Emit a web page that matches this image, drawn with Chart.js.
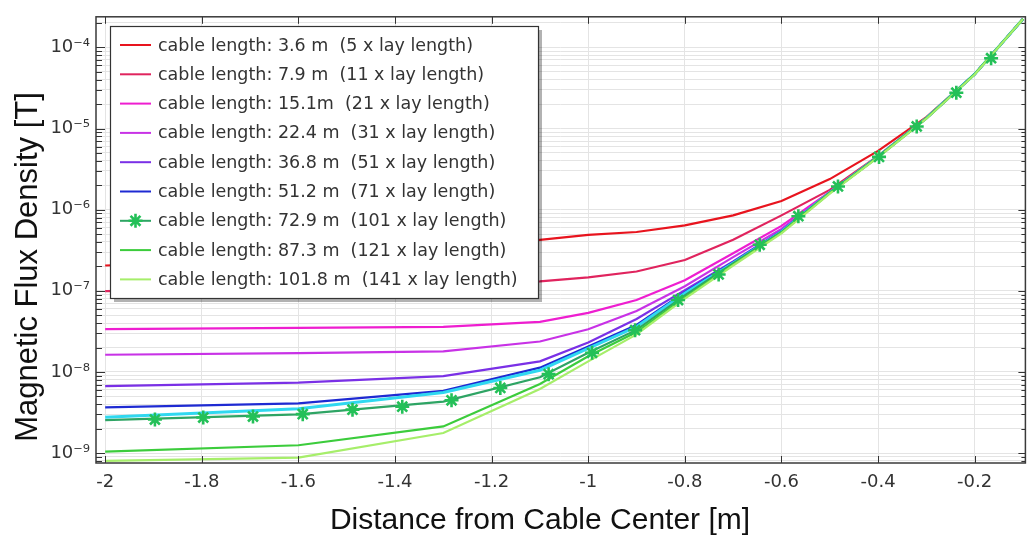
<!DOCTYPE html>
<html>
<head>
<meta charset="utf-8">
<script src="https://cdn.jsdelivr.net/npm/chart.js@4.4.1/dist/chart.umd.min.js"></script>
<style>
  html, body { margin: 0; padding: 0; background: #fff; }
  #wrap { width: 1035px; height: 542px; }
</style>
</head>
<body>
<div id="wrap"><canvas id="myChart" width="1035" height="542"></canvas></div>
<script>
// distance from cable center [m] where the curves bend
const xGrid = [-2, -1.6, -1.3, -1.1, -1.0, -0.9, -0.8, -0.7, -0.6, -0.5, -0.4, -0.3, -0.2, -0.1];

// magnetic flux density [T] per cable length
const len3_6   = [2.05e-7, 2.45e-7, 3.2e-7, 4.25e-7, 4.9e-7, 5.3e-7, 6.4e-7, 8.5e-7, 1.28e-6, 2.38e-6, 5.3e-6, 1.38e-5, 4.7e-5, 2.25e-4];
const len7_9   = [9.9e-8, 1.05e-7, 1.17e-7, 1.31e-7, 1.46e-7, 1.73e-7, 2.4e-7, 4.25e-7, 8.5e-7, 1.75e-6, 4.6e-6, 1.35e-5, 4.68e-5, 2.24e-4];
const len15_1  = [3.38e-8, 3.5e-8, 3.6e-8, 4.15e-8, 5.35e-8, 7.7e-8, 1.35e-7, 2.9e-7, 6.3e-7, 1.66e-6, 4.5e-6, 1.34e-5, 4.68e-5, 2.24e-4];
const len22_4  = [1.63e-8, 1.71e-8, 1.79e-8, 2.37e-8, 3.36e-8, 5.65e-8, 1.14e-7, 2.6e-7, 5.8e-7, 1.64e-6, 4.5e-6, 1.34e-5, 4.68e-5, 2.24e-4];
const len36_8  = [6.7e-9, 7.4e-9, 8.9e-9, 1.35e-8, 2.3e-8, 4.5e-8, 1.02e-7, 2.3e-7, 5.5e-7, 1.62e-6, 4.5e-6, 1.34e-5, 4.68e-5, 2.24e-4];
const len51_2  = [3.66e-9, 4.1e-9, 5.84e-9, 1.13e-8, 2.06e-8, 3.8e-8, 9.6e-8, 2.25e-7, 5.4e-7, 1.62e-6, 4.5e-6, 1.34e-5, 4.68e-5, 2.24e-4];
const lenCyan  = [2.77e-9, 3.52e-9, 5.57e-9, 1.05e-8, 1.95e-8, 3.6e-8, 9.3e-8, 2.2e-7, 5.35e-7, 1.62e-6, 4.5e-6, 1.34e-5, 4.68e-5, 2.24e-4];
const len72_9  = [2.55e-9, 3.0e-9, 4.3e-9, 8.6e-9, 1.72e-8, 3.3e-8, 8.8e-8, 2.17e-7, 5.3e-7, 1.62e-6, 4.5e-6, 1.34e-5, 4.68e-5, 2.24e-4];
const len87_3  = [1.04e-9, 1.25e-9, 2.13e-9, 7.1e-9, 1.56e-8, 3.1e-8, 8.3e-8, 2.1e-7, 5.2e-7, 1.6e-6, 4.45e-6, 1.33e-5, 4.65e-5, 2.24e-4];
const len101_8 = [8.0e-10, 8.8e-10, 1.77e-9, 6.17e-9, 1.35e-8, 2.9e-8, 8.0e-8, 2.05e-7, 5.1e-7, 1.58e-6, 4.4e-6, 1.32e-5, 4.62e-5, 2.24e-4];

// asterisk markers on the 72.9 m curve
const markerX = [-1.897, -1.797, -1.694, -1.591, -1.488, -1.385, -1.283, -1.182, -1.082, -0.992, -0.903, -0.814, -0.730, -0.645, -0.565, -0.483, -0.398, -0.320, -0.238, -0.166];
const markerY = [2.59e-9, 2.74e-9, 2.82e-9, 3.02e-9, 3.43e-9, 3.73e-9, 4.47e-9, 6.35e-9, 9.4e-9, 1.72e-8, 3.27e-8, 7.7e-8, 1.59e-7, 3.69e-7, 8.3e-7, 1.93e-6, 4.47e-6, 1.06e-5, 2.76e-5, 7.35e-5];

const legendLabels = [
  'cable length: 3.6 m  (5 x lay length)',
  'cable length: 7.9 m  (11 x lay length)',
  'cable length: 15.1m  (21 x lay length)',
  'cable length: 22.4 m  (31 x lay length)',
  'cable length: 36.8 m  (51 x lay length)',
  'cable length: 51.2 m  (71 x lay length)',
  'cable length: 72.9 m  (101 x lay length)',
  'cable length: 87.3 m  (121 x lay length)',
  'cable length: 101.8 m  (141 x lay length)'
];
const legendColors = ['#e8141e', '#e0245e', '#ee1ed0', '#c832e6', '#7a30e6', '#1e2ad2', '#2ea464', '#3ccc3c', '#a6ee6a'];

const xTickValues = [-2, -1.8, -1.6, -1.4, -1.2, -1, -0.8, -0.6, -0.4, -0.2];
const xTickLabels = ['-2', '-1.8', '-1.6', '-1.4', '-1.2', '-1', '-0.8', '-0.6', '-0.4', '-0.2'];
const yDecades = [-9, -8, -7, -6, -5, -4];
const yTickLabels = ['10⁻⁹', '10⁻⁸', '10⁻⁷', '10⁻⁶', '10⁻⁵', '10⁻⁴'];

const pts = ys => xGrid.map((x, i) => ({ x: x, y: ys[i] }));

function line(ys, color, w) {
  return {
    data: pts(ys),
    borderColor: color,
    backgroundColor: color,
    borderWidth: w || 2.2,
    pointRadius: 0,
    tension: 0,
    fill: false
  };
}

const datasets = [
  line(len3_6, legendColors[0]),
  line(len7_9, legendColors[1]),
  line(len15_1, legendColors[2]),
  line(len22_4, legendColors[3]),
  line(len36_8, legendColors[4]),
  line(len51_2, legendColors[5]),
  line(lenCyan, '#30d8f0', 3),
  line(len72_9, legendColors[6]),
  line(len87_3, legendColors[7]),
  line(len101_8, legendColors[8]),
  {
    data: markerX.map((x, i) => ({ x: x, y: markerY[i] })),
    showLine: false,
    pointStyle: 'star',
    pointRadius: 7,
    pointBorderWidth: 2.6,
    borderColor: '#24c058',
    backgroundColor: '#24c058'
  }
];
// later datasets on top
datasets.forEach((d, i) => { d.order = datasets.length - i; });

const frame = {
  id: 'frame',
  afterDatasetsDraw(chart) {
    const { ctx, chartArea: a, scales: { x, y } } = chart;
    ctx.save();
    ctx.strokeStyle = '#333';
    ctx.lineWidth = 1;
    ctx.beginPath();
    x.ticks.forEach(t => {
      const px = Math.round(x.getPixelForValue(t.value)) + 0.5;
      ctx.moveTo(px, a.bottom); ctx.lineTo(px, a.bottom - 7);
      ctx.moveTo(px, a.top); ctx.lineTo(px, a.top + 7);
    });
    y.ticks.forEach(t => {
      const py = Math.round(y.getPixelForValue(t.value)) + 0.5;
      const major = t.label !== '';
      const len = major ? 9 : 6;
      ctx.moveTo(a.left, py); ctx.lineTo(a.left + len, py);
      ctx.moveTo(a.right, py); ctx.lineTo(a.right - (major ? 7 : 4), py);
    });
    ctx.stroke();
    ctx.lineWidth = 1.5;
    ctx.strokeStyle = '#3a3a3a';
    ctx.strokeRect(a.left, a.top, a.right - a.left, a.bottom - a.top);

    // legend box
    const bx = 110, by = 26, bw = 428, bh = 272;
    ctx.fillStyle = 'rgba(0,0,0,0.3)';
    ctx.fillRect(bx + 4, by + 4, bw, bh);
    ctx.fillStyle = '#fff';
    ctx.fillRect(bx, by, bw, bh);
    ctx.lineWidth = 1.2;
    ctx.strokeStyle = '#333';
    ctx.strokeRect(bx + 0.5, by + 0.5, bw, bh);
    ctx.font = '17.5px "DejaVu Sans"';
    ctx.textBaseline = 'middle';
    legendLabels.forEach((lab, i) => {
      const cy = 45 + i * 29.3;
      ctx.strokeStyle = legendColors[i];
      ctx.lineWidth = 2;
      ctx.beginPath();
      ctx.moveTo(120, cy); ctx.lineTo(151, cy);
      ctx.stroke();
      if (i === 6) {
        ctx.strokeStyle = '#24c058';
        ctx.lineWidth = 2.6;
        ctx.beginPath();
        for (let k = 0; k < 4; k++) {
          const ang = k * Math.PI / 4;
          ctx.moveTo(135.5 - 7 * Math.cos(ang), cy - 7 * Math.sin(ang));
          ctx.lineTo(135.5 + 7 * Math.cos(ang), cy + 7 * Math.sin(ang));
        }
        ctx.stroke();
      }
      ctx.fillStyle = '#333';
      ctx.fillText(lab, 158, cy + 1);
    });

    // axis titles
    ctx.fillStyle = '#111';
    ctx.font = '30px "Liberation Sans", Arial, sans-serif';
    ctx.textAlign = 'center';
    ctx.fillText('Distance from Cable Center [m]', 540, 521);
    ctx.font = '31px "Liberation Sans", Arial, sans-serif';
    ctx.translate(28, 267);
    ctx.rotate(-Math.PI / 2);
    ctx.fillText('Magnetic Flux Density [T]', 0, 0);
    ctx.restore();
  }
};

const ctx = document.getElementById('myChart').getContext('2d');
const chart = new Chart(ctx, {
  type: 'line',
  data: { datasets: datasets },
  options: {
    responsive: false,
    animation: false,
    layout: { padding: { top: 11, right: 2, left: 0, bottom: 0 } },
    plugins: {
      legend: { display: false },
      tooltip: { enabled: false }
    },
    scales: {
      x: {
        type: 'linear',
        min: -2.019,
        max: -0.095,
        afterBuildTicks: s => { s.ticks = xTickValues.map(v => ({ value: v })); },
        afterFit: s => { s.height = 79; },
        ticks: {
          autoSkip: false,
          maxRotation: 0,
          padding: 9,
          color: '#333',
          font: { family: 'DejaVu Sans', size: 18 },
          callback: (v, i) => xTickLabels[i]
        },
        grid: { color: '#e4e4e4', drawTicks: false },
        border: { display: false }
      },
      y: {
        type: 'logarithmic',
        min: 7.55e-10,
        max: 2.38e-4,
        afterBuildTicks: s => {
          const t = [];
          for (let e = -10; e <= -4; e++) {
            for (let m = 1; m <= 9; m++) {
              const v = m * Math.pow(10, e);
              if (v >= s.min && v <= s.max) t.push({ value: v });
            }
          }
          s.ticks = t;
        },
        afterFit: s => { s.width = 96; },
        ticks: {
          autoSkip: false,
          padding: 6,
          color: '#333',
          font: { family: 'DejaVu Sans', size: 18 },
          callback: v => {
            const e = Math.round(Math.log10(v));
            if (Math.abs(v / Math.pow(10, e) - 1) < 1e-6) {
              const k = yDecades.indexOf(e);
              return k >= 0 ? yTickLabels[k] : '';
            }
            return '';
          }
        },
        grid: { color: '#e4e4e4', drawTicks: false },
        border: { display: false }
      }
    }
  },
  plugins: [frame]
});
</script>
</body>
</html>
